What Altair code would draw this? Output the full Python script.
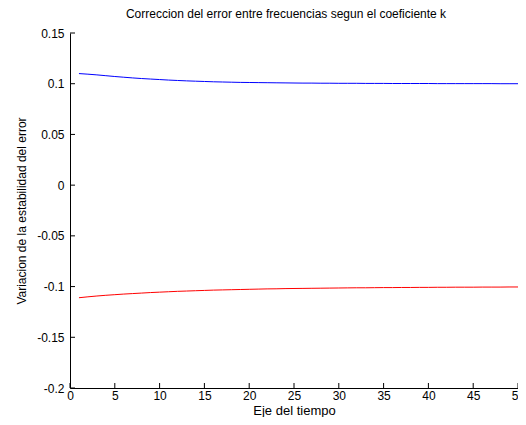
import altair as alt
import pandas as pd

t = list(range(1, 51))
blue = [0.1100, 0.1094, 0.1087, 0.1079, 0.1071, 0.1064, 0.1057, 0.1051, 0.1046, 0.1041,
        0.1036, 0.1032, 0.1028, 0.1025, 0.1022, 0.1019, 0.1017, 0.1015, 0.1013, 0.1012,
        0.1011, 0.1010, 0.1009, 0.1008, 0.1007, 0.1006, 0.1006, 0.1005, 0.1005, 0.1004,
        0.1004, 0.1004, 0.1003, 0.1003, 0.1003, 0.1002, 0.1002, 0.1002, 0.1002, 0.1002,
        0.1001, 0.1001, 0.1001, 0.1001, 0.1001, 0.1001, 0.1001, 0.1000, 0.1000, 0.1000]
red = [-0.1110, -0.1101, -0.1093, -0.1086, -0.1080, -0.1074, -0.1069, -0.1064, -0.1059, -0.1055,
       -0.1051, -0.1047, -0.1044, -0.1041, -0.1038, -0.1035, -0.1033, -0.1031, -0.1029, -0.1027,
       -0.1025, -0.1023, -0.1022, -0.1020, -0.1019, -0.1018, -0.1017, -0.1016, -0.1015, -0.1014,
       -0.1013, -0.1012, -0.1012, -0.1011, -0.1010, -0.1010, -0.1009, -0.1009, -0.1008, -0.1008,
       -0.1007, -0.1007, -0.1006, -0.1006, -0.1006, -0.1005, -0.1005, -0.1005, -0.1004, -0.1004]
xticks = [0, 5, 10, 15, 20, 25, 30, 35, 40, 45, 50]
yticks = [-0.2, -0.15, -0.1, -0.05, 0, 0.05, 0.1, 0.15]

FONT = "Liberation Sans"
W, H = 448, 355

df = pd.DataFrame({
    "t": t + t,
    "v": blue + red,
    "s": ["azul"] * len(t) + ["rojo"] * len(t),
})

xscale = alt.Scale(domain=[0, 50], nice=False, zero=False)
yscale = alt.Scale(domain=[-0.2, 0.15], nice=False, zero=False)

xaxis = alt.Axis(values=xticks, title="Eje del tiempo", grid=False, ticks=False,
                 domainColor="black", labelColor="black", labelFont=FONT, labelFontSize=12,
                 labelPadding=2, titleFont=FONT, titleFontSize=13, titleFontWeight="normal",
                 titleColor="black", titlePadding=3, labelExpr="'' + datum.value",
                 labelFlush=False, labelOverlap=False)
yaxis = alt.Axis(values=yticks, title="Variacion de la estabilidad del error", grid=False,
                 ticks=False, domainColor="black", labelColor="black", labelFont=FONT,
                 labelFontSize=12, labelPadding=6, titleFont=FONT, titleFontSize=12,
                 titleFontWeight="normal", titleColor="black", titlePadding=8,
                 labelExpr="'' + datum.value", labelFlush=False, labelOverlap=False)

lines = alt.Chart(df).mark_line(strokeWidth=1, clip=True).encode(
    x=alt.X("t:Q", scale=xscale, axis=xaxis),
    y=alt.Y("v:Q", scale=yscale, axis=yaxis),
    color=alt.Color("s:N", scale=alt.Scale(domain=["azul", "rojo"], range=["#0000ff", "#ff0000"]),
                    legend=None),
)

ytick_marks = alt.Chart(pd.DataFrame({"yt": yticks})).mark_rule(color="black", strokeWidth=1).encode(
    y=alt.Y("yt:Q", scale=yscale, axis=yaxis),
    x=alt.value(0), x2=alt.value(5),
)
xtick_marks = alt.Chart(pd.DataFrame({"xt": xticks})).mark_rule(color="black", strokeWidth=1).encode(
    x=alt.X("xt:Q", scale=xscale, axis=xaxis),
    y=alt.value(H), y2=alt.value(H - 5),
)

chart = alt.layer(lines, ytick_marks, xtick_marks).properties(
    width=W, height=H,
    title=alt.TitleParams("Correccion del error entre frecuencias segun el coeficiente k",
                          font=FONT, fontSize=12, fontWeight="normal", color="black",
                          offset=6, dx=-8),
    autosize=alt.AutoSizeParams(type="none"),
    padding={"left": 62, "top": 25, "right": 0, "bottom": 29},
    background="white",
).configure_view(stroke=None)

chart.save("out.html", embed_options={"renderer": "svg", "actions": False})
